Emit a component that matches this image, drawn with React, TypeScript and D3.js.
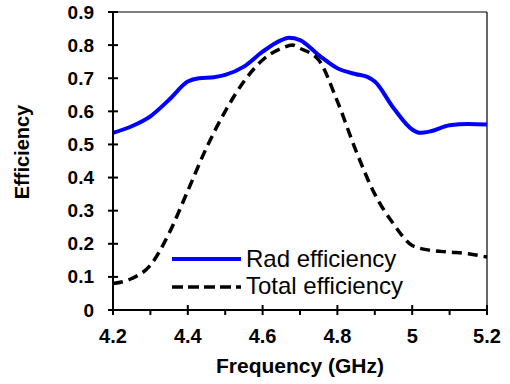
import React from "react";
import * as d3 from "d3";

const radX = [4.2, 4.25, 4.3, 4.35, 4.4, 4.43, 4.47, 4.5, 4.55, 4.6, 4.65, 4.67, 4.7, 4.75, 4.8, 4.85, 4.88, 4.9, 4.95, 5.0, 5.02, 5.05, 5.1, 5.15, 5.2];
const radY = [0.535, 0.555, 0.585, 0.635, 0.69, 0.7, 0.703, 0.71, 0.735, 0.78, 0.815, 0.822, 0.815, 0.77, 0.73, 0.712, 0.704, 0.69, 0.61, 0.545, 0.535, 0.54, 0.558, 0.562, 0.56];
const totX = [4.2, 4.25, 4.3, 4.35, 4.4, 4.45, 4.5, 4.55, 4.6, 4.65, 4.68, 4.7, 4.75, 4.8, 4.85, 4.9, 4.95, 5.0, 5.05, 5.1, 5.15, 5.2];
const totY = [0.08, 0.095, 0.135, 0.232, 0.36, 0.49, 0.6, 0.69, 0.755, 0.79, 0.8, 0.79, 0.755, 0.63, 0.48, 0.35, 0.26, 0.195, 0.18, 0.175, 0.17, 0.16];
const xMajor = [4.2, 4.4, 4.6, 4.8, 5.0, 5.2];
const xMajorLabels = ["4.2", "4.4", "4.6", "4.8", "5", "5.2"];
const xMinor = [4.3, 4.5, 4.7, 4.9, 5.1];
const yTicks = [0, 0.1, 0.2, 0.3, 0.4, 0.5, 0.6, 0.7, 0.8, 0.9];
const yLabels = ["0", "0.1", "0.2", "0.3", "0.4", "0.5", "0.6", "0.7", "0.8", "0.9"];
const seriesNames = ["Rad efficiency", "Total efficiency"];

export default function App() {
  const L = 113, R = 487, T = 12, B = 310;
  const x = d3.scaleLinear().domain([4.2, 5.2]).range([L, R]);
  const y = d3.scaleLinear().domain([0, 0.9]).range([B, T]);
  const line = d3.line<[number, number]>().x(d => x(d[0])).y(d => y(d[1])).curve(d3.curveMonotoneX);
  const radPath = line(radX.map((v, i) => [v, radY[i]] as [number, number])) || "";
  const totPath = line(totX.map((v, i) => [v, totY[i]] as [number, number])) || "";
  const font = "Arial, 'Liberation Sans', sans-serif";
  return (
    <svg width={510} height={384} style={{ position: "absolute", left: 0, top: 0, background: "#fff" }} fontFamily={font}>
      <rect x={0} y={0} width={510} height={384} fill="#fff" />
      <line x1={L} x2={R} y1={T} y2={T} stroke="#000" strokeWidth={1.2} />
      <line x1={R} x2={R} y1={T} y2={B} stroke="#000" strokeWidth={1.2} />
      <path d={radPath} fill="none" stroke="#0000ff" strokeWidth={4} />
      <path d={totPath} fill="none" stroke="#000" strokeWidth={3.5} strokeDasharray="10,6" />
      <line x1={L} x2={L} y1={T} y2={B} stroke="#000" strokeWidth={2} />
      <line x1={L} x2={R} y1={B} y2={B} stroke="#000" strokeWidth={2} />
      {yTicks.map((t, i) => (
        <g key={"y" + i}>
          <line x1={L - 5} x2={L + 5} y1={y(t)} y2={y(t)} stroke="#000" strokeWidth={2} />
          <text x={L - 19} y={y(t) + 6.5} textAnchor="end" fontSize={19} fontWeight="bold">{yLabels[i]}</text>
        </g>
      ))}
      {xMajor.map((t, i) => (
        <g key={"x" + i}>
          <line x1={x(t)} x2={x(t)} y1={B - 5} y2={B + 5} stroke="#000" strokeWidth={2} />
          <text x={x(t)} y={343} textAnchor="middle" fontSize={20} fontWeight="bold">{xMajorLabels[i]}</text>
        </g>
      ))}
      {xMinor.map((t, i) => (
        <line key={"m" + i} x1={x(t)} x2={x(t)} y1={B} y2={B + 5} stroke="#000" strokeWidth={2} />
      ))}
      <text x={300} y={373} textAnchor="middle" fontSize={21} fontWeight="bold">Frequency (GHz)</text>
      <text transform="translate(29,152) rotate(-90)" textAnchor="middle" fontSize={20} fontWeight="bold">Efficiency</text>
      <line x1={172} x2={241} y1={259} y2={259} stroke="#0000ff" strokeWidth={4} />
      <text x={246} y={267} fontSize={24}>{seriesNames[0]}</text>
      <line x1={172} x2={241} y1={287} y2={287} stroke="#000" strokeWidth={3.5} strokeDasharray="11,5" />
      <text x={246} y={294} fontSize={24}>{seriesNames[1]}</text>
    </svg>
  );
}
